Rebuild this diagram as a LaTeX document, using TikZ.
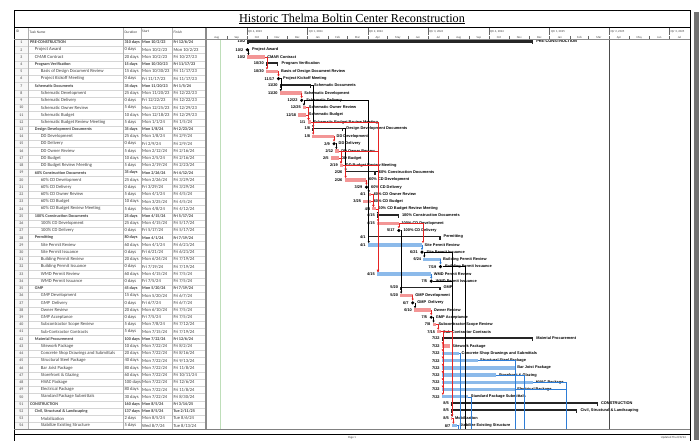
\documentclass[tikz,border=0pt]{standalone}
\usepackage{fontspec}
\setmainfont{Carlito}
\newfontfamily\barfont{Liberation Sans}
\newfontfamily\titlefont{Liberation Serif}
\usetikzlibrary{arrows.meta}
\usetikzlibrary{positioning}
\usetikzlibrary{shapes.geometric}

\definecolor{critpink}{RGB}{243,150,150}
\definecolor{planblue}{RGB}{140,186,234}
\definecolor{linkred}{RGB}{230,35,35}
\definecolor{linkblue}{RGB}{45,125,215}
\definecolor{gridgray}{RGB}{214,214,214}
\definecolor{textgray}{RGB}{64,64,64}
\definecolor{statusgreen}{RGB}{190,222,185}

\begin{document}
\begin{tikzpicture}[x=1pt,y=-1pt,
    chart/.style={shift={(206.4,0)},x=0.6613pt},
    cell/.style={inner sep=0pt, anchor=west, text=textgray, font=\fontsize{4.6}{5}\selectfont},
    boldcell/.style={cell, font=\bfseries\fontsize{4.2}{5}\selectfont},
    idcell/.style={inner sep=0pt, text=textgray, font=\fontsize{3.9}{5}\selectfont},
    hdr/.style={inner sep=0pt, text=textgray, font=\fontsize{3}{4}\selectfont},
    critbar/.style={fill=critpink, inner sep=0pt, outer sep=0pt, minimum height=3.4pt, anchor=west},
    planbar/.style={fill=planblue, inner sep=0pt, outer sep=0pt, minimum height=3.4pt, anchor=west},
    sumbar/.style={fill=black!85, inner sep=0pt, outer sep=0pt, anchor=west},
    mile/.style={diamond, fill=black, inner sep=0pt, minimum size=3.6pt},
    datelab/.style={inner sep=0pt, font=\barfont\bfseries\fontsize{3.9}{4}\selectfont},
    namelab/.style={inner sep=0pt, font=\barfont\bfseries\fontsize{3.9}{4}\selectfont},
    link/.style={line width=0.55pt, -{Latex[length=2.2pt,width=2.4pt]}, to path={-| (\tikztotarget)}},
    offlink/.style={line width=0.55pt, to path={-| (\tikztotarget)}}]
\useasboundingbox (0,0) rectangle (699,440);
\fill[white] (0,0) rectangle (699,440);
\fill[black!55] (694,12) rectangle (699,440);

\fill[black!3] (14.3,39.2) rectangle (28.3,429);
\foreach \k in {1,...,53}
  \draw[gridgray, line width=0.4pt] (14.3,39.2+\k*7.23) -- (205,39.2+\k*7.23);
\foreach \cx in {28.3,123.3,141,172.3}
  \draw[black!30, line width=0.4pt] (\cx,27.7) -- (\cx,429);

\node[font=\titlefont\fontsize{12.2}{14}\selectfont] (title) at (352,19) {\underline{Historic Thelma Boltin Center Reconstruction}};
\node[hdr, anchor=west, font=\fontsize{3.6}{4}\selectfont] (hid) at (15.8,31.8) {ID};
\node[hdr, anchor=west, font=\fontsize{3.6}{4}\selectfont] (hname) at (29.5,31.8) {Task Name};
\node[hdr, anchor=west, font=\fontsize{3.6}{4}\selectfont] (hdur) at (124.3,31.8) {Duration};
\node[hdr, anchor=west, font=\fontsize{3.6}{4}\selectfont] (hstart) at (142,31.8) {Start};
\node[hdr, anchor=west, font=\fontsize{3.6}{4}\selectfont] (hfinish) at (173.3,31.8) {Finish};

\begin{scope}[chart]
\foreach \q/\from in {{Qtr 4, 2023}/61, {Qtr 1, 2024}/153, {Qtr 2, 2024}/244, {Qtr 3, 2024}/335, {Qtr 4, 2024}/427, {Qtr 1, 2025}/519, {Qtr 2, 2025}/609, {Qtr 3, 2025}/700}{
  \draw[black!60, line width=0.4pt] (\from,28) -- (\from,35);
  \node[hdr, anchor=west] (q\from) at ([xshift=1.2pt]\from,32) {\q};
}
\foreach \m/\from/\len in {Aug/0/31, Sep/31/30, Oct/61/31, Nov/92/30, Dec/122/31, Jan/153/31, Feb/184/29, Mar/213/31, Apr/244/30, May/274/31, Jun/305/30, Jul/335/31, Aug/366/31, Sep/397/30, Oct/427/31, Nov/458/30, Dec/488/31, Jan/519/31, Feb/550/28, Mar/578/31, Apr/609/30, May/639/31, Jun/670/30, Jul/700/31}{
  \draw[black!60, line width=0.4pt] (\from,36.3) -- (\from,39.2);
  \node[hdr] (m\from) at (\from+\len/2,37.4) {\m};
}
\draw[statusgreen, line width=1.3pt] (21.6,39.2) -- (21.6,429);
\draw[black!70, line width=0.5pt] (609,39.2) -- (609,429);
\end{scope}

\foreach \tid/\tind/\task/\tdur/\tstart/\tfinish/\tdate/\from/\upto/\lw in {
  1/30/PRE-CONSTRUCTION/310 days/{Mon 10/2/23}/{Fri 12/6/24}/{10/2}/62/494/2.2,
  4/34.7/Program Verification/15 days/{Mon 10/30/23}/{Fri 11/17/23}/{10/30}/90/109/1.4,
  7/34.7/Schematic Documents/35 days/{Mon 11/20/23}/{Fri 1/5/24}/{11/20}/111/158/1.4,
  13/34.7/Design Development Documents/35 days/{Mon 1/8/24}/{Fri 2/23/24}/{1/8}/160/207/1.4,
  19/34.7/60\% Construction Documents/35 days/{Mon 2/26/24}/{Fri 4/12/24}/{2/26}/209/256/1.4,
  25/34.7/100\% Construction Documents/25 days/{Mon 4/15/24}/{Fri 5/17/24}/{4/15}/258/291/1.4,
  28/34.7/Permitting/80 days/{Mon 4/1/24}/{Fri 7/19/24}/{4/1}/244/354/1.4,
  35/34.7/GMP/45 days/{Mon 5/20/24}/{Fri 7/19/24}/{5/20}/293/354/1.4,
  42/34.7/Material Procurement/100 days/{Mon 7/22/24}/{Fri 12/6/24}/{7/22}/356/494/1.4,
  51/30/CONSTRUCTION/160 days/{Mon 8/5/24}/{Fri 3/14/25}/{8/5}/370/592/1.4,
  52/34.7/{Civil, Structural \& Landscaping}/137 days/{Mon 8/5/24}/{Tue 2/11/25}/{8/5}/370/561/2.2}{
  \pgfmathsetmacro\ry{42.5+(\tid-1)*7.23}
  \pgfmathsetmacro\barw{(\upto-\from)*0.6613}
  \node[idcell] (i\tid) at (21.3,\ry) {\tid};
  \node[boldcell] (t\tid) at (\tind,\ry) {\task};
  \node[boldcell] (u\tid) at (124.3,\ry) {\tdur};
  \node[boldcell] (s\tid) at (142,\ry) {\tstart};
  \node[boldcell] (f\tid) at (173.3,\ry) {\tfinish};
  \begin{scope}[chart]
    \node[sumbar, minimum width=\barw pt, minimum height=\lw pt] (b\tid) at (\from,\ry-1) {};
    \fill[black!85] (b\tid.north west) rectangle ++(1.3pt,-3.8pt);
    \fill[black!85] (b\tid.north east) rectangle ++(-1.3pt,-3.8pt);
    \node[datelab, left=2pt of b\tid] (d\tid) {\tdate};
    \node[namelab, right=3pt of b\tid] (n\tid) {\task};
  \end{scope}
}

\foreach \tid/\tind/\task/\tdur/\tstart/\tfinish/\tdate/\from/\upto in {
  3/34.7/CMAR Contract/20 days/{Mon 10/2/23}/{Fri 10/27/23}/{10/2}/62/88,
  5/40.7/Basis of Design Document Review/15 days/{Mon 10/30/23}/{Fri 11/17/23}/{10/30}/90/109,
  8/40.7/Schematic Development/25 days/{Mon 11/20/23}/{Fri 12/22/23}/{11/20}/111/144,
  10/40.7/Schematic Owner Review/5 days/{Mon 12/25/23}/{Fri 12/29/23}/{12/25}/146/151,
  11/40.7/Schematic Budget/10 days/{Mon 12/18/23}/{Fri 12/29/23}/{12/18}/139/151,
  12/40.7/Schematic Budget Review Meeting/5 days/{Mon 1/1/24}/{Fri 1/5/24}/{1/1}/153/158,
  14/40.7/DD Development/25 days/{Mon 1/8/24}/{Fri 2/9/24}/{1/8}/160/193,
  16/40.7/DD Owner Review/5 days/{Mon 2/12/24}/{Fri 2/16/24}/{2/12}/195/200,
  17/40.7/DD Budget/10 days/{Mon 2/5/24}/{Fri 2/16/24}/{2/5}/188/200,
  18/40.7/DD Budget Review Meeting/5 days/{Mon 2/19/24}/{Fri 2/23/24}/{2/19}/202/207,
  20/40.7/60\% CD Development/25 days/{Mon 2/26/24}/{Fri 3/29/24}/{2/26}/209/242,
  22/40.7/60\% CD Owner Review/5 days/{Mon 4/1/24}/{Fri 4/5/24}/{4/1}/244/249,
  23/40.7/60\% CD Budget/10 days/{Mon 3/25/24}/{Fri 4/5/24}/{3/25}/237/249,
  24/40.7/60\% CD Budget Review Meeting/5 days/{Mon 4/8/24}/{Fri 4/12/24}/{4/8}/251/256,
  26/40.7/100\% CD Development/25 days/{Mon 4/15/24}/{Fri 5/17/24}/{4/15}/258/291,
  36/40.7/GMP Development/15 days/{Mon 5/20/24}/{Fri 6/7/24}/{5/20}/293/312,
  38/40.7/Owner Review/20 days/{Mon 6/10/24}/{Fri 7/5/24}/{6/10}/314/340,
  40/40.7/Subcontractor Scope Review/5 days/{Mon 7/8/24}/{Fri 7/12/24}/{7/8}/342/347,
  41/40.7/Sub-Contractor Contracts/5 days/{Mon 7/15/24}/{Fri 7/19/24}/{7/15}/349/354,
  43/40.7/Sitework Package/10 days/{Mon 7/22/24}/{Fri 8/2/24}/{7/22}/356/368,
  53/40.7/Mobilization/2 days/{Mon 8/5/24}/{Tue 8/6/24}/{8/5}/370/372}{
  \pgfmathsetmacro\ry{42.5+(\tid-1)*7.23}
  \pgfmathsetmacro\barw{(\upto-\from)*0.6613}
  \node[idcell] (i\tid) at (21.3,\ry) {\tid};
  \node[cell] (t\tid) at (\tind,\ry) {\task};
  \node[cell] (u\tid) at (124.3,\ry) {\tdur};
  \node[cell] (s\tid) at (142,\ry) {\tstart};
  \node[cell] (f\tid) at (173.3,\ry) {\tfinish};
  \begin{scope}[chart]
    \node[critbar, minimum width=\barw pt] (b\tid) at (\from,\ry) {};
    \node[datelab, left=2pt of b\tid] (d\tid) {\tdate};
    \node[namelab, right=2.5pt of b\tid] (n\tid) {\task};
  \end{scope}
}

\foreach \tid/\tind/\task/\tdur/\tstart/\tfinish/\tdate/\from/\upto in {
  29/40.7/Site Permit Review/60 days/{Mon 4/1/24}/{Fri 6/21/24}/{4/1}/244/326,
  31/40.7/Building Permit Review/20 days/{Mon 6/24/24}/{Fri 7/19/24}/{6/24}/328/354,
  33/40.7/WMD Permit Review/60 days/{Mon 4/15/24}/{Fri 7/5/24}/{4/15}/258/340,
  44/40.7/Concrete Shop Drawings and Submittals/20 days/{Mon 7/22/24}/{Fri 8/16/24}/{7/22}/356/382,
  45/40.7/Structural Steel Package/40 days/{Mon 7/22/24}/{Fri 9/13/24}/{7/22}/356/410,
  46/40.7/Bar Joist Package/80 days/{Mon 7/22/24}/{Fri 11/8/24}/{7/22}/356/466,
  47/40.7/Storefront \& Glazing/60 days/{Mon 7/22/24}/{Fri 10/11/24}/{7/22}/356/438,
  48/40.7/HVAC Package/100 days/{Mon 7/22/24}/{Fri 12/6/24}/{7/22}/356/494,
  49/40.7/Electrical Package/80 days/{Mon 7/22/24}/{Fri 11/8/24}/{7/22}/356/466,
  50/40.7/Standard Package Submittals/30 days/{Mon 7/22/24}/{Fri 8/30/24}/{7/22}/356/396,
  54/40.7/Stabilize Existing Structure/5 days/{Wed 8/7/24}/{Tue 8/13/24}/{8/7}/372/379}{
  \pgfmathsetmacro\ry{42.5+(\tid-1)*7.23}
  \pgfmathsetmacro\barw{(\upto-\from)*0.6613}
  \node[idcell] (i\tid) at (21.3,\ry) {\tid};
  \node[cell] (t\tid) at (\tind,\ry) {\task};
  \node[cell] (u\tid) at (124.3,\ry) {\tdur};
  \node[cell] (s\tid) at (142,\ry) {\tstart};
  \node[cell] (f\tid) at (173.3,\ry) {\tfinish};
  \begin{scope}[chart]
    \node[planbar, minimum width=\barw pt] (b\tid) at (\from,\ry) {};
    \node[datelab, left=2pt of b\tid] (d\tid) {\tdate};
    \node[namelab, right=2.5pt of b\tid] (n\tid) {\task};
  \end{scope}
}

\foreach \tid/\tind/\task/\tstart/\tdate/\from in {
  2/34.7/Project Award/{Mon 10/2/23}/{10/2}/62,
  6/40.7/Project Kickoff Meeting/{Fri 11/17/23}/{11/17}/109,
  9/40.7/Schematic Delivery/{Fri 12/22/23}/{12/22}/144,
  15/40.7/DD Delivery/{Fri 2/9/24}/{2/9}/193,
  21/40.7/60\% CD Delivery/{Fri 3/29/24}/{3/29}/242,
  27/40.7/100\% CD Delivery/{Fri 5/17/24}/{5/17}/291,
  30/40.7/Site Permit Issuance/{Fri 6/21/24}/{6/21}/326,
  32/40.7/Building Permit Issuance/{Fri 7/19/24}/{7/19}/354,
  34/40.7/WMD Permit Issuance/{Fri 7/5/24}/{7/5}/340,
  37/40.7/GMP~ Delivery/{Fri 6/7/24}/{6/7}/312,
  39/40.7/GMP Acceptance/{Fri 7/5/24}/{7/5}/340}{
  \pgfmathsetmacro\ry{42.5+(\tid-1)*7.23}
  \node[idcell] (i\tid) at (21.3,\ry) {\tid};
  \node[cell] (t\tid) at (\tind,\ry) {\task};
  \node[cell] (u\tid) at (124.3,\ry) {0 days};
  \node[cell] (s\tid) at (142,\ry) {\tstart};
  \node[cell] (f\tid) at (173.3,\ry) {\tstart};
  \begin{scope}[chart]
    \node[mile] (b\tid) at (\from,\ry) {};
    \node[datelab, left=2pt of b\tid] (d\tid) {\tdate};
    \node[namelab, right=2.5pt of b\tid] (n\tid) {\task};
  \end{scope}
}

\begin{scope}[chart]
\coordinate (o32) at (392,429);
\coordinate (o44) at (384,429);
\coordinate (o45) at (467,429);
\coordinate (o46) at (467,429);
\coordinate (o47) at (481,429);
\coordinate (o48) at (544,429);
\coordinate (o49) at (544,429);
\coordinate (o50) at (400,429);
\coordinate (o54) at (381,429);
\end{scope}

\path[link, black]
  (b2.east) edge ([xshift=1pt]b3.north west)
  (b6.east) edge ([xshift=1pt]b8.north west)
  (b7.east) edge ([xshift=1pt]b13.north west)
  (b9.east) edge ([xshift=1pt]b10.north west)
  (b9.east) edge ([xshift=1pt]b29.north west)
  (b13.east) edge ([xshift=1pt]b19.north west)
  (b15.east) edge ([xshift=1pt]b16.north west)
  (b19.east) edge ([xshift=1pt]b25.north west)
  (b21.east) edge ([xshift=1pt]b22.north west)
  (b27.east) edge ([xshift=1pt]b36.north west)
  (b30.east) edge ([xshift=1pt]b31.north west)
  (b30.east) edge ([xshift=1pt]b53.north west)
  (b34.east) edge ([xshift=1pt]b53.north west)
  (b37.east) edge ([xshift=1pt]b38.north west)
  (b39.east) edge ([xshift=1pt]b40.north west);
\path[offlink, black]
  (b32.east) edge (o32);
\path[link, linkred]
  (b3.east) edge ([xshift=1pt]b5.north west)
  (b5.east) edge (b6.north)
  (b8.east) edge (b9.north)
  (b10.east) edge ([xshift=1pt]b12.north west)
  (b11.east) edge ([xshift=1pt]b12.north west)
  (b12.east) edge ([xshift=1pt]b14.north west)
  (b12.east) edge ([xshift=1pt]b33.north west)
  (b14.east) edge (b15.north)
  (b16.east) edge ([xshift=1pt]b18.north west)
  (b16.east) edge ([xshift=1pt]b33.north west)
  (b17.east) edge ([xshift=1pt]b18.north west)
  (b18.east) edge ([xshift=1pt]b20.north west)
  (b18.east) edge ([xshift=1pt]b33.north west)
  (b20.east) edge (b21.north)
  (b22.east) edge ([xshift=1pt]b24.north west)
  (b23.east) edge ([xshift=1pt]b24.north west)
  (b24.east) edge ([xshift=1pt]b26.north west)
  (b26.east) edge (b27.north)
  (b26.east) edge ([xshift=1pt]b29.north east)
  (b36.east) edge (b37.north)
  (b38.east) edge (b39.north)
  (b40.east) edge ([xshift=1pt]b41.north west)
  (b41.east) edge ([xshift=1pt]b53.north west)
  (b53.east) edge ([xshift=1pt]b54.north west);
\foreach \k in {43,...,50}
  \path[link, linkred] (b41.east) edge ([xshift=1pt]b\k.north west);
\path[link, linkblue]
  (b29.east) edge (b30.north)
  (b31.east) edge (b32.north)
  (b33.east) edge (b34.north);
\path[offlink, linkblue]
  (b44.east) edge (o44)
  (b45.east) edge (o45)
  (b46.east) edge (o46)
  (b47.east) edge (o47)
  (b48.east) edge (o48)
  (b49.east) edge (o49)
  (b50.east) edge (o50)
  (b54.east) edge (o54);

\draw[line width=0.7pt] (14.3,441) |- (690,10) -- (690,441);
\draw[line width=0.8pt] (14.3,27.7) -- (690,27.7);
\draw[black!45, line width=0.5pt] (14.3,39.2) -- (690,39.2);
\draw[black!50, line width=0.8pt] (14.3,429) -- (690,429);
\draw[line width=0.8pt] (14.3,434) -- (690,434);
\draw[black!45, line width=1.8pt] (206,27.7) -- (206,429);
\node[hdr] (page) at (352,438) {Page 1};
\node[hdr, anchor=east] (updated) at (686,438) {Updated Thu 8/8/24};
\end{tikzpicture}
\end{document}
